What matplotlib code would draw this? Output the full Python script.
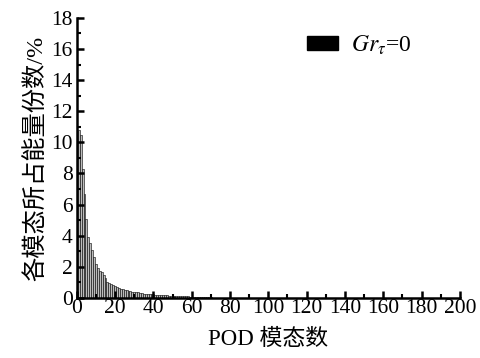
import numpy as np
import matplotlib.pyplot as plt
from matplotlib.patches import Patch

# energy fraction of each POD mode (%)
modes = np.arange(1, 71)
energy = [10.8, 10.5, 8.3, 6.7, 5.1, 3.9, 3.5, 3.1, 2.6, 2.2,
          1.9, 1.75, 1.65, 1.5, 1.3, 1.0, 0.95, 0.88, 0.82, 0.75,
          0.7, 0.65, 0.6, 0.57, 0.52, 0.48, 0.45, 0.42, 0.4, 0.38,
          0.36, 0.35, 0.33, 0.3, 0.28, 0.27, 0.26, 0.25, 0.24, 0.22,
          0.2, 0.2, 0.19, 0.19, 0.18, 0.17, 0.16, 0.15, 0.14, 0.13,
          0.12, 0.12, 0.11, 0.11, 0.1, 0.1, 0.09, 0.09, 0.08, 0.08,
          0.07, 0.07, 0.07, 0.06, 0.06, 0.06, 0.05, 0.05, 0.05, 0.05]
series_name = r'$Gr_{\tau}$=0'

plt.rcParams['font.family'] = ['Liberation Serif', 'Noto Sans CJK SC']
plt.rcParams['mathtext.fontset'] = 'stix'

fig = plt.figure(figsize=(4.8, 3.58), dpi=100)
ax = fig.add_axes([0.160, 0.168, 0.798, 0.782])

ax.bar(modes, energy, width=1.0, color='#bcbcbc', edgecolor='black', linewidth=0.4)

ax.set_xlim(0, 200)
ax.set_ylim(0, 18)
ax.set_xticks(np.arange(0, 201, 20))
ax.set_xticks(np.arange(0, 201, 10), minor=True)
ax.set_yticks(np.arange(0, 19, 2))
ax.set_yticks(np.arange(0, 19, 1), minor=True)
ax.tick_params(which='major', direction='in', length=5, width=1.8, labelsize=15.5)
ax.tick_params(which='minor', direction='in', length=3, width=1.5)
ax.tick_params(axis='x', pad=1)
ax.tick_params(axis='y', pad=3)
ax.spines['top'].set_visible(False)
ax.spines['right'].set_visible(False)
ax.spines['left'].set_linewidth(1.8)
ax.spines['bottom'].set_linewidth(1.8)

ax.set_xlabel('POD 模态数', fontsize=16.5, labelpad=8)
ax.set_ylabel('各模态所占能量份数/%', fontsize=17.5, labelpad=2)

ax.legend(handles=[Patch(facecolor='black', edgecolor='black', label=series_name)],
          loc='upper right', bbox_to_anchor=(0.93, 1.02), frameon=False, fontsize=17,
          handlelength=1.35, handleheight=0.5, handletextpad=0.55)

fig.savefig('out.png', dpi=100)
